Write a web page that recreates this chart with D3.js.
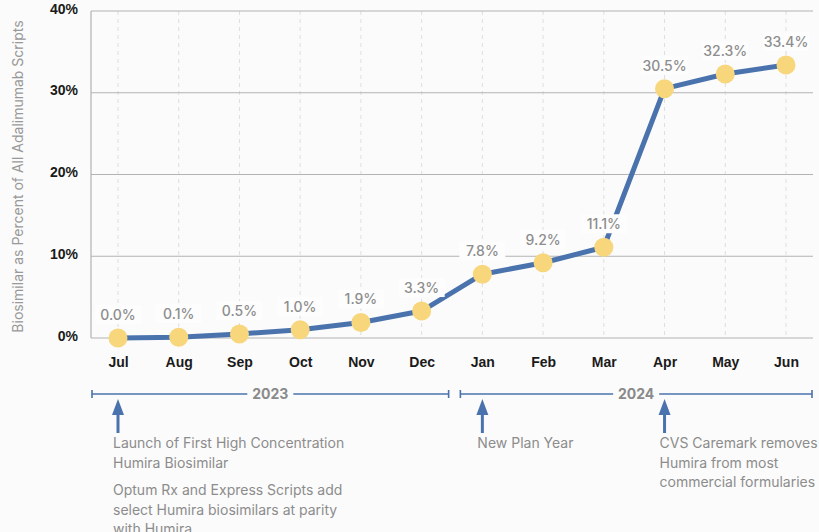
<!DOCTYPE html>
<html>
<head>
<meta charset="utf-8">
<script src="https://cdn.jsdelivr.net/npm/d3@7"></script>
<style>
  body { margin: 0; background: #fbfbfb; }
  svg { display: block; font-family: Inter, "Noto Sans", sans-serif; }
</style>
</head>
<body>
<div id="chart"></div>
<script>
// data
let months = ["Jul", "Aug", "Sep", "Oct", "Nov", "Dec", "Jan", "Feb", "Mar", "Apr", "May", "Jun"];
let share = [0.0, 0.1, 0.5, 1.0, 1.9, 3.3, 7.8, 9.2, 11.1, 30.5, 32.3, 33.4];
let yTicks = [0, 10, 20, 30, 40];
let years = [
    {label: "2023", from: "Jul", to: "Dec"},
    {label: "2024", from: "Jan", to: "Jun"}
];
let events = [
    {month: "Jul", lines: ["Launch of First High Concentration", "Humira Biosimilar"]},
    {month: "Jul", lines: ["Optum Rx and Express Scripts add", "select Humira biosimilars at parity", "with Humira"], gap: true},
    {month: "Jan", lines: ["New Plan Year"]},
    {month: "Apr", lines: ["CVS Caremark removes", "Humira from most", "commercial formularies"]}
];

let width = 819, height = 532;
let plot = {left: 91, right: 813, top: 11, bottom: 338};
let blue = "#4a73ad", dot = "#f7d67c", grid = "#b3b3b3";

let svg = d3.select("#chart").append("svg")
    .attr("width", width)
    .attr("height", height);

let x = d3.scalePoint()
    .domain(months)
    .range([118, 786]);
let y = d3.scaleLinear()
    .domain([0, 40])
    .range([plot.bottom, plot.top]);

// vertical dashed month lines
svg.append("g")
    .selectAll("line")
    .data(months)
    .enter()
    .append("line")
    .attr("x1", d => x(d))
    .attr("x2", d => x(d))
    .attr("y1", plot.top)
    .attr("y2", plot.bottom)
    .style("stroke", "#dedede")
    .style("stroke-dasharray", "4 4");

// horizontal grid
svg.append("g")
    .selectAll("line")
    .data(yTicks)
    .enter()
    .append("line")
    .attr("x1", plot.left)
    .attr("x2", plot.right)
    .attr("y1", d => y(d))
    .attr("y2", d => y(d))
    .style("stroke", grid)
    .style("stroke-width", 1.2);

svg.append("line")
    .attr("x1", plot.left).attr("x2", plot.left)
    .attr("y1", plot.top).attr("y2", plot.bottom)
    .style("stroke", grid)
    .style("stroke-width", 1.2);

// y axis
let yAxis = svg.append("g")
    .attr("transform", "translate(" + plot.left + ",0)")
    .call(d3.axisLeft(y).tickValues(yTicks).tickSize(0).tickPadding(13).tickFormat(d => d + "%"));
yAxis.select(".domain").remove();
yAxis.selectAll("text")
    .attr("dy", "0.15em")
    .style("font-size", "14px")
    .style("font-weight", 700)
    .style("fill", "#1a1a1a");

svg.append("text")
    .attr("transform", "translate(23," + ((plot.top + plot.bottom) / 2 + 2) + ") rotate(-90)")
    .attr("text-anchor", "middle")
    .style("font-size", "14px")
    .style("fill", "#999")
    .text("Biosimilar as Percent of All Adalimumab Scripts");

// x axis
let xAxis = svg.append("g")
    .attr("transform", "translate(0," + plot.bottom + ")")
    .call(d3.axisBottom(x).tickSize(0).tickPadding(19));
xAxis.select(".domain").remove();
xAxis.selectAll("text")
    .style("font-size", "14px")
    .style("font-weight", 700)
    .style("fill", "#1a1a1a");

// line
let pts = months.map((m, i) => ({month: m, value: share[i]}));
svg.append("path")
    .datum(pts)
    .attr("d", d3.line().x(d => x(d.month)).y(d => y(d.value)))
    .style("fill", "none")
    .style("stroke", blue)
    .style("stroke-width", 5)
    .style("stroke-linejoin", "round");

svg.append("g")
    .selectAll("circle")
    .data(pts)
    .enter()
    .append("circle")
    .attr("cx", d => x(d.month))
    .attr("cy", d => y(d.value))
    .attr("r", 9.5)
    .style("fill", dot);

// value labels with white boxes
let labels = svg.append("g")
    .selectAll("g")
    .data(pts)
    .enter()
    .append("g")
    .attr("transform", d => "translate(" + x(d.month) + "," + (y(d.value) - 23) + ")");
labels.append("rect")
    .attr("x", -23).attr("y", -10)
    .attr("width", 46).attr("height", 19)
    .style("fill", "#fdfdfd");
labels.append("text")
    .attr("text-anchor", "middle")
    .attr("dy", "0.35em")
    .style("font-size", "14px")
    .style("font-weight", 500)
    .style("fill", "#8d8d8d")
    .text(d => d3.format(".1f")(d.value) + "%");

// year brackets
let ty = 394;
years.forEach(function(yr) {
    let x0 = x(yr.from) - 26, x1 = x(yr.to) + 27;
    if (yr.label === "2024") { x0 = x(yr.from) - 22; x1 = x(yr.to) + 26; }
    let mid = (x0 + x1) / 2;
    let g = svg.append("g").style("stroke", blue).style("stroke-width", 1.6);
    g.append("line").attr("x1", x0).attr("x2", mid - 23).attr("y1", ty).attr("y2", ty);
    g.append("line").attr("x1", mid + 23).attr("x2", x1).attr("y1", ty).attr("y2", ty);
    g.append("line").attr("x1", x0).attr("x2", x0).attr("y1", ty - 4).attr("y2", ty + 4);
    g.append("line").attr("x1", x1).attr("x2", x1).attr("y1", ty - 4).attr("y2", ty + 4);
    svg.append("text")
        .attr("x", mid).attr("y", ty)
        .attr("dy", "0.35em")
        .attr("text-anchor", "middle")
        .style("font-size", "14px")
        .style("font-weight", 700)
        .style("fill", "#8a8a8a")
        .text(yr.label);
});

// event arrows
let arrowMonths = Array.from(new Set(events.map(e => e.month)));
arrowMonths.forEach(function(m) {
    let cx = x(m);
    svg.append("line")
        .attr("x1", cx).attr("x2", cx)
        .attr("y1", 412).attr("y2", 433)
        .style("stroke", blue)
        .style("stroke-width", 3);
    svg.append("path")
        .attr("d", "M" + (cx - 6) + ",415 L" + cx + ",399 L" + (cx + 6) + ",415 Z")
        .style("fill", blue);
});

// event texts
let lineH = 19.5;
events.forEach(function(ev) {
    let startY = 448;
    if (ev.gap) startY = 495;
    let t = svg.append("text")
        .attr("x", x(ev.month) - 5)
        .attr("y", startY)
        .style("font-size", "14px")
        .style("fill", "#8c8c8c");
    ev.lines.forEach(function(l, i) {
        t.append("tspan")
            .attr("x", x(ev.month) - 5)
            .attr("y", startY + i * lineH)
            .text(l);
    });
});
</script>
</body>
</html>
